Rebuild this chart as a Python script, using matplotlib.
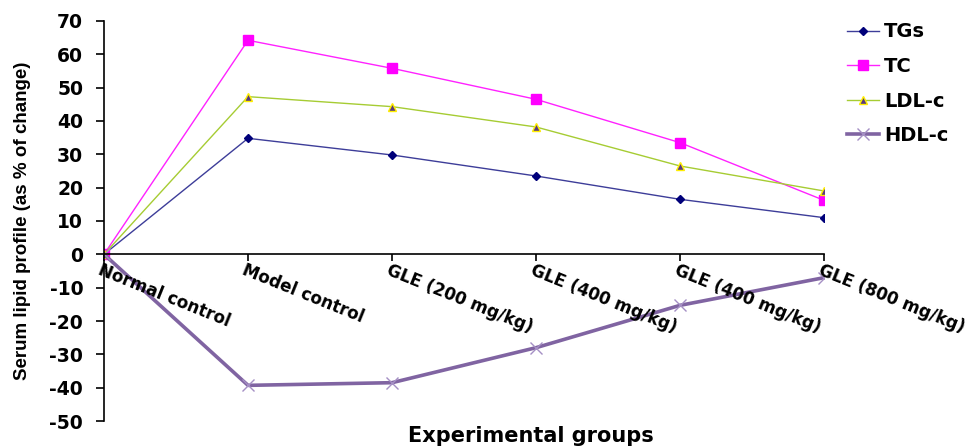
import matplotlib.pyplot as plt
import numpy as np

grupos = ['Normal control', 'Model control', 'GLE (200 mg/kg)',
          'GLE (400 mg/kg)', 'GLE (400 mg/kg)', 'GLE (800 mg/kg)']
tgs = [0, 34.8, 29.8, 23.5, 16.5, 11.0]
tc = [0, 64.2, 55.8, 46.5, 33.5, 16.2]
ldl_c = [0, 47.3, 44.3, 38.2, 26.5, 19.0]
hdl_c = [0, -39.3, -38.5, -28.0, -15.3, -7.0]

plt.rcParams['font.family'] = ['DejaVu Sans']
plt.rcParams['axes.unicode_minus'] = False

fig = plt.figure(figsize=(9.73, 4.46), dpi=100)
ax = fig.add_axes([0.1069, 0.056, 0.74, 0.897])

x = np.arange(len(grupos))

ax.plot(x, tgs, color='#3d3d99', lw=1, marker='D', ms=4.5,
        mfc='#00007a', mec='#00007a', label='TGs')
ax.plot(x, tc, color='#ff22ff', lw=1, marker='s', ms=6.5,
        mfc='#ff00ff', mec='#ff00ff', label='TC')
ax.plot(x, ldl_c, color='#a6cc33', lw=1, marker='^', ms=6,
        mfc='#5a3a80', mec='#ffee00', mew=1, label='LDL-c')
ax.plot(x, hdl_c, color='#8064a2', lw=2.6, marker='x', ms=9,
        mec='#a58fc4', mew=1, label='HDL-c')

ax.set_xlim(0, 5)
ax.set_ylim(-50, 70)
ax.set_yticks(np.arange(-50, 71, 10))
ax.set_xticks(x)
ax.set_xticklabels([])

ax.spines['top'].set_visible(False)
ax.spines['right'].set_visible(False)
ax.spines['bottom'].set_position(('data', 0))
ax.spines['left'].set_linewidth(1.2)
ax.spines['bottom'].set_linewidth(1.2)
ax.tick_params(axis='y', direction='out', length=6, width=1.2, pad=9)
ax.tick_params(axis='x', direction='out', length=5, width=1.2)
for lab in ax.get_yticklabels():
    lab.set_fontsize(13.5)
    lab.set_fontweight('bold')

# etiquetas de grupos inclinadas desde cada marca
for i, g in enumerate(grupos):
    ax.text(i - 0.01, -2.0, g, rotation=-22, rotation_mode='anchor',
            ha='left', va='top', fontsize=12.1, fontweight='bold')

ax.set_ylabel('Serum lipid profile (as % of change)', fontsize=13.5,
              fontweight='bold', family=['Liberation Sans'],
              labelpad=13)
fig.text(0.546, 0.022, 'Experimental groups', ha='center', va='center',
         fontsize=15, fontweight='bold')

ax.legend(loc='upper left', bbox_to_anchor=(1.008, 1.04), frameon=False,
          prop={'size': 14, 'weight': 'bold'}, handlelength=1.65,
          labelspacing=0.8, handletextpad=0.25)

fig.savefig('out.png', dpi=100)
